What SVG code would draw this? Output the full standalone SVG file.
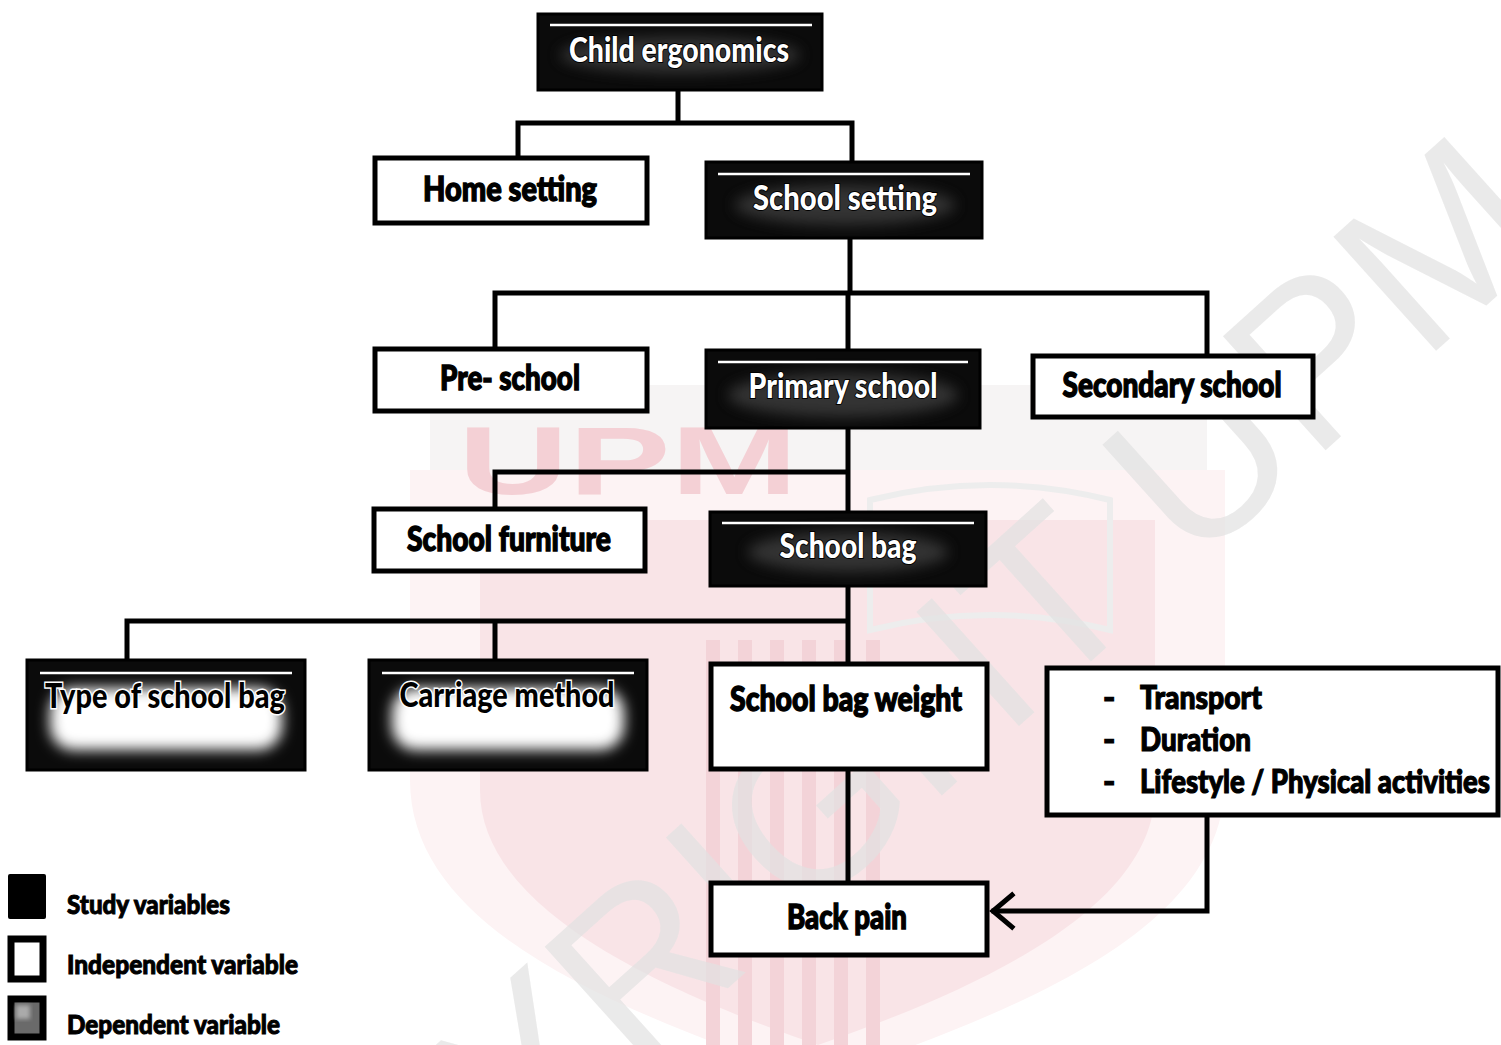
<svg xmlns="http://www.w3.org/2000/svg" width="1501" height="1045" viewBox="0 0 1501 1045">
<defs>
<style>
.ln{stroke:#000;stroke-width:5;fill:none;stroke-linecap:square;stroke-linejoin:miter}
.wbox{fill:#fff;stroke:#000;stroke-width:5}
.bbox{fill:#0b0b0b;stroke:#000;stroke-width:3}
.hl{stroke:#fff;stroke-width:2.5;fill:none}
.t{font-family:Lato,"Liberation Sans",sans-serif;font-weight:900;font-size:34px;text-anchor:middle}
.tw{fill:#fff;stroke:#000;stroke-width:2;paint-order:stroke}
.tb{fill:#000;stroke:#000;stroke-width:1.4}
.tg{fill:#000;stroke:#fff;stroke-width:3;paint-order:stroke}
.lg{font-family:Lato,"Liberation Sans",sans-serif;font-weight:900;font-size:27px;fill:#000;stroke:#000;stroke-width:1}
.li{font-family:Lato,"Liberation Sans",sans-serif;font-weight:900;font-size:33px;fill:#000;stroke:#000;stroke-width:1.2}
.glow{fill:#fff;filter:url(#blur)}
.mot{fill:#555;filter:url(#blur);opacity:0.55}
</style>
<filter id="blur" x="-20%" y="-40%" width="140%" height="180%"><feGaussianBlur stdDeviation="7"/></filter>
<filter id="soft" x="-20%" y="-20%" width="140%" height="140%"><feGaussianBlur stdDeviation="2"/></filter>
</defs>
<rect width="1501" height="1045" fill="#fff"/>

<g id="watermark">
<rect x="430" y="385" width="777" height="270" fill="#f6f4f4"/>
<path d="M410,470 H1225 V780 C1225,930 1020,1010 818,1080 C616,1010 410,930 410,780 Z" fill="#fdf3f4"/>
<path d="M480,520 H1155 V790 C1155,905 990,985 818,1045 C646,985 480,905 480,790 Z" fill="#f9e4e7"/>
<text x="458" y="494" font-family="Liberation Sans,sans-serif" font-weight="700" font-size="96" fill="#f4d0d5" textLength="340" lengthAdjust="spacingAndGlyphs">UPM</text>
<g fill="#f3d3d8">
<rect x="706" y="640" width="14" height="405"/>
<rect x="738" y="640" width="14" height="405"/>
<rect x="770" y="640" width="14" height="405"/>
<rect x="802" y="640" width="14" height="405"/>
<rect x="834" y="640" width="14" height="405"/>
<rect x="866" y="640" width="14" height="405"/>
</g>
<path d="M870,500 Q990,470 1110,500 V630 Q990,600 870,630 Z" fill="none" stroke="#ededed" stroke-width="6"/>
<text transform="translate(164,1496) rotate(-42)" font-family="Liberation Sans,sans-serif" font-size="223" fill="#e2e2e2" opacity="0.7">COPYRIGHT UPM</text>
</g>

<g id="connectors">
<path class="ln" d="M678,90 V123 M518,123 H852 M518,123 V157 M852,123 V162"/>
<path class="ln" d="M850,238 V293 M495,293 H1207 M495,293 V348 M848,293 V350 M1207,293 V355"/>
<path class="ln" d="M848,428 V512 M495,472 H848 M495,472 V508"/>
<path class="ln" d="M848,586 V663 M127,621 H848 M127,621 V660 M495,621 V660"/>
<path class="ln" d="M848,770 V882"/>
<path class="ln" d="M1207,816 V911 H994"/>
<path class="ln" d="M1012,895 L993,911 L1012,927" stroke-linecap="round"/>
</g>

<g id="child-ergonomics">
<rect class="bbox" x="538" y="14" width="284" height="76"/>
<ellipse class="mot" cx="680" cy="55" rx="120" ry="18"/>
<line class="hl" x1="550" y1="25" x2="812" y2="25"/>
<text class="t tw" x="679" y="62" textLength="220" lengthAdjust="spacingAndGlyphs">Child ergonomics</text>
</g>

<g id="home-setting">
<rect class="wbox" x="375" y="158" width="272" height="65"/>
<text class="t tb" x="510" y="201" textLength="174" lengthAdjust="spacingAndGlyphs">Home setting</text>
</g>

<g id="school-setting">
<rect class="bbox" x="706" y="162" width="276" height="76"/>
<ellipse class="mot" cx="845" cy="205" rx="110" ry="20"/>
<line class="hl" x1="718" y1="174" x2="970" y2="174"/>
<text class="t tw" x="845" y="210" textLength="184" lengthAdjust="spacingAndGlyphs">School setting</text>
</g>

<g id="pre-school">
<rect class="wbox" x="375" y="349" width="272" height="62"/>
<text class="t tb" x="510" y="390" textLength="140" lengthAdjust="spacingAndGlyphs">Pre- school</text>
</g>

<g id="primary-school">
<rect class="bbox" x="706" y="350" width="274" height="78"/>
<ellipse class="mot" cx="843" cy="395" rx="115" ry="22"/>
<line class="hl" x1="718" y1="362" x2="968" y2="362"/>
<text class="t tw" x="843" y="398" textLength="189" lengthAdjust="spacingAndGlyphs">Primary school</text>
</g>

<g id="secondary-school">
<rect class="wbox" x="1033" y="356" width="280" height="61"/>
<text class="t tb" x="1172" y="397" textLength="219" lengthAdjust="spacingAndGlyphs">Secondary school</text>
</g>

<g id="school-furniture">
<rect class="wbox" x="374" y="509" width="271" height="62"/>
<text class="t tb" x="509" y="551" textLength="204" lengthAdjust="spacingAndGlyphs">School furniture</text>
</g>

<g id="school-bag">
<rect class="bbox" x="710" y="512" width="276" height="74"/>
<ellipse class="mot" cx="848" cy="552" rx="100" ry="20"/>
<line class="hl" x1="722" y1="523" x2="974" y2="523"/>
<text class="t tw" x="848" y="558" textLength="137" lengthAdjust="spacingAndGlyphs">School bag</text>
</g>

<g id="type-of-school-bag">
<rect class="bbox" x="27" y="660" width="278" height="110"/>
<line class="hl" x1="40" y1="673" x2="292" y2="673"/>
<rect class="glow" x="50" y="688" width="232" height="62" rx="24"/>
<text class="t tg" x="165" y="708" textLength="240" lengthAdjust="spacingAndGlyphs">Type of school bag</text>
</g>

<g id="carriage-method">
<rect class="bbox" x="369" y="660" width="278" height="110"/>
<line class="hl" x1="382" y1="673" x2="634" y2="673"/>
<rect class="glow" x="392" y="688" width="232" height="62" rx="24"/>
<text class="t tg" x="507" y="707" textLength="215" lengthAdjust="spacingAndGlyphs">Carriage method</text>
</g>

<g id="school-bag-weight">
<rect class="wbox" x="711" y="664" width="276" height="105"/>
<text class="t tb" x="846" y="711" textLength="232" lengthAdjust="spacingAndGlyphs">School bag weight</text>
</g>

<g id="other-factors">
<rect class="wbox" x="1047" y="668" width="451" height="147"/>
<text class="li" x="1103" y="709">-</text>
<text class="li" x="1140" y="709" textLength="122" lengthAdjust="spacingAndGlyphs">Transport</text>
<text class="li" x="1103" y="751">-</text>
<text class="li" x="1140" y="751" textLength="111" lengthAdjust="spacingAndGlyphs">Duration</text>
<text class="li" x="1103" y="793">-</text>
<text class="li" x="1140" y="793" textLength="350" lengthAdjust="spacingAndGlyphs">Lifestyle / Physical activities</text>
</g>

<g id="back-pain">
<rect class="wbox" x="711" y="883" width="276" height="72"/>
<text class="t tb" x="847" y="929" textLength="120" lengthAdjust="spacingAndGlyphs">Back pain</text>
</g>

<g id="legend">
<rect x="8" y="874" width="38" height="45" fill="#000" rx="2"/>
<text class="lg" x="67" y="914" textLength="163" lengthAdjust="spacingAndGlyphs">Study variables</text>
<rect x="11" y="939" width="32" height="40" fill="#fff" stroke="#000" stroke-width="7"/>
<text class="lg" x="67" y="974" textLength="231" lengthAdjust="spacingAndGlyphs">Independent variable</text>
<rect x="11" y="999" width="32" height="38" fill="#6a6a6a" stroke="#000" stroke-width="7"/>
<rect x="16" y="1005" width="14" height="14" fill="#aaa" filter="url(#soft)"/>
<text class="lg" x="67" y="1034" textLength="213" lengthAdjust="spacingAndGlyphs">Dependent variable</text>
</g>
</svg>
